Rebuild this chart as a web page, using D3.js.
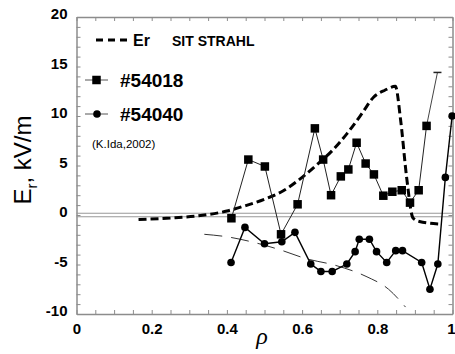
<!DOCTYPE html>
<html>
<head>
<meta charset="utf-8">
<script src="https://cdn.jsdelivr.net/npm/d3@7"></script>
<style>
  html, body { margin: 0; padding: 0; background: #fff; }
  svg { display: block; font-family: "Liberation Sans", Arial, sans-serif; }
</style>
</head>
<body>
<div id="chart"></div>
<script>
// shot #54018 (squares)
const rho54018 = [0.412, 0.457, 0.501, 0.544, 0.588, 0.634, 0.656, 0.677, 0.703, 0.723, 0.745, 0.769, 0.791, 0.816, 0.840, 0.865, 0.887, 0.910, 0.931];
const er54018  = [-0.33, 5.6, 4.9, -1.95, 1.08, 8.75, 5.6, 2.0, 3.9, 4.6, 7.3, 5.2, 4.1, 1.95, 2.35, 2.5, 1.25, 2.5, 9.0];
const cap54018 = [0.96, 14.4];

// shot #54040 (circles)
const rho54040 = [0.411, 0.448, 0.500, 0.546, 0.581, 0.623, 0.650, 0.680, 0.719, 0.741, 0.752, 0.779, 0.798, 0.825, 0.849, 0.867, 0.918, 0.940, 0.961, 0.981, 0.999];
const er54040  = [-4.8, -1.25, -2.9, -2.7, -1.75, -4.95, -5.7, -5.7, -4.95, -3.7, -2.45, -2.45, -3.7, -4.8, -3.6, -3.6, -4.8, -7.5, -4.95, 3.8, 10.0];

// SIT STRAHL Er (thick dashed)
const rhoSit = [0.165, 0.25, 0.33, 0.40, 0.45, 0.50, 0.55, 0.60, 0.64, 0.68, 0.72, 0.76, 0.79, 0.82, 0.848, 0.862, 0.878, 0.895, 0.912, 0.962];
const erSit  = [-0.45, -0.3, -0.05, 0.4, 0.95, 1.6, 2.45, 3.8, 5.1, 6.5, 8.25, 10.3, 11.9, 12.6, 13.0, 9.6, 3.8, -0.3, -0.65, -0.9];

// thin long-dashed curve
const rhoNeg = [0.34, 0.40, 0.47, 0.54, 0.61, 0.69, 0.77, 0.83, 0.875];
const erNeg  = [-1.95, -2.2, -2.75, -3.5, -4.4, -5.1, -6.2, -7.5, -9.3];

const xTicks = [0, 0.2, 0.4, 0.6, 0.8, 1];
const yTicks = [-10, -5, 0, 5, 10, 15, 20];

const width = 455, height = 354;
const x = d3.scaleLinear().domain([0, 1]).range([76.5, 452.5]);
const y = d3.scaleLinear().domain([-10, 20]).range([314, 17]);

const svg = d3.select('#chart').append('svg')
  .attr('width', width).attr('height', height);

const frameColor = '#8c8c8c';

// minor tick values
const xMinor = d3.range(0, 1.0001, 0.05).map(v => +v.toFixed(2));
const yMinor = d3.range(-10, 20.001, 1);
const isMajorX = v => xTicks.some(t => Math.abs(t - v) < 1e-6);
const isMajorY = v => yTicks.some(t => Math.abs(t - v) < 1e-6);

function styleAxis(g) {
  g.select('.domain').attr('stroke', frameColor).attr('stroke-width', 1.5);
  g.selectAll('.tick line').attr('stroke', frameColor).attr('stroke-width', 1);
  g.selectAll('.tick text')
    .attr('fill', '#000')
    .style('font-size', '15px')
    .style('font-weight', 'bold');
}

// bottom
svg.append('g')
  .attr('transform', `translate(0,${y(-10)})`)
  .call(d3.axisBottom(x).tickValues(xMinor).tickSizeInner(-4).tickSizeOuter(0).tickPadding(9)
    .tickFormat(v => isMajorX(v) ? d3.format('~g')(v) : ''))
  .call(styleAxis)
  .call(g => g.selectAll('.tick text').filter(v => v === 1)
    .attr('text-anchor', 'end').attr('x', 2.5));

// top
svg.append('g')
  .attr('transform', `translate(0,${y(20)})`)
  .call(d3.axisTop(x).tickValues(xMinor).tickSizeInner(-4).tickSizeOuter(0).tickFormat(''))
  .call(styleAxis);

// left
svg.append('g')
  .attr('transform', `translate(${x(0)},0)`)
  .call(d3.axisLeft(y).tickValues(yMinor).tickSizeInner(-4).tickSizeOuter(0).tickPadding(9)
    .tickFormat(v => isMajorY(v) ? v : ''))
  .call(styleAxis)
  .call(g => g.selectAll('.tick text').attr('dy', '0.1em'));

// right
svg.append('g')
  .attr('transform', `translate(${x(1)},0)`)
  .call(d3.axisRight(y).tickValues(yMinor).tickSizeInner(-4).tickSizeOuter(0).tickFormat(''))
  .call(styleAxis);

// zero line (double gray)
[-1.7, 1.7].forEach(d => {
  svg.append('line')
    .attr('x1', x(0)).attr('x2', x(1))
    .attr('y1', y(0) + d).attr('y2', y(0) + d)
    .attr('stroke', '#999').attr('stroke-width', 1.1);
});

const line = d3.line().x(d => x(d[0])).y(d => y(d[1]));
const smooth = d3.line().x(d => x(d[0])).y(d => y(d[1])).curve(d3.curveMonotoneX);

// thin long-dashed curve
svg.append('path')
  .datum(d3.zip(rhoNeg, erNeg))
  .attr('d', smooth)
  .attr('fill', 'none').attr('stroke', '#333').attr('stroke-width', 1)
  .attr('stroke-dasharray', '18,9');

// SIT STRAHL Er
svg.append('path')
  .datum(d3.zip(rhoSit, erSit))
  .attr('d', smooth)
  .attr('fill', 'none').attr('stroke', '#000').attr('stroke-width', 3)
  .attr('stroke-dasharray', '8,4');

// #54018
const pts18 = d3.zip(rho54018, er54018);
svg.append('path')
  .datum(pts18)
  .attr('d', line)
  .attr('fill', 'none').attr('stroke', '#222').attr('stroke-width', 1);
svg.append('path')
  .datum([pts18[pts18.length - 1], cap54018])
  .attr('d', line)
  .attr('fill', 'none').attr('stroke', '#444').attr('stroke-width', 1);
svg.append('line')
  .attr('x1', x(cap54018[0]) - 4).attr('x2', x(cap54018[0]) + 4)
  .attr('y1', y(cap54018[1])).attr('y2', y(cap54018[1]))
  .attr('stroke', '#222').attr('stroke-width', 1.5);
const sq = 8.5;
svg.append('g').selectAll('rect')
  .data(pts18)
  .join('rect')
  .attr('x', d => x(d[0]) - sq / 2).attr('y', d => y(d[1]) - sq / 2)
  .attr('width', sq).attr('height', sq)
  .attr('fill', '#000');

// #54040
const pts40 = d3.zip(rho54040, er54040);
svg.append('path')
  .datum(pts40)
  .attr('d', line)
  .attr('fill', 'none').attr('stroke', '#000').attr('stroke-width', 1.4);
svg.append('g').selectAll('circle')
  .data(pts40)
  .join('circle')
  .attr('cx', d => x(d[0])).attr('cy', d => y(d[1]))
  .attr('r', 3.8)
  .attr('fill', '#000');

// legend
const lg = svg.append('g');
lg.append('line')
  .attr('x1', 96).attr('x2', 127).attr('y1', 40).attr('y2', 40)
  .attr('stroke', '#000').attr('stroke-width', 3).attr('stroke-dasharray', '7,5');
lg.append('text').attr('x', 133).attr('y', 46)
  .style('font-size', '16px').style('font-weight', 'bold').text('Er');
lg.append('text').attr('x', 172).attr('y', 45.5)
  .style('font-size', '14px').style('font-weight', 'bold').text('SIT STRAHL');

lg.append('line').attr('x1', 85).attr('x2', 108).attr('y1', 80).attr('y2', 80)
  .attr('stroke', '#555').attr('stroke-width', 1);
lg.append('rect').attr('x', 96.5 - sq / 2).attr('y', 80 - sq / 2)
  .attr('width', sq).attr('height', sq).attr('fill', '#000');
lg.append('text').attr('x', 120).attr('y', 87)
  .style('font-size', '19px').style('font-weight', 'bold').text('#54018');

lg.append('line').attr('x1', 85).attr('x2', 108).attr('y1', 114).attr('y2', 114)
  .attr('stroke', '#555').attr('stroke-width', 1);
lg.append('circle').attr('cx', 97).attr('cy', 114).attr('r', 3.8).attr('fill', '#000');
lg.append('text').attr('x', 120).attr('y', 121)
  .style('font-size', '19px').style('font-weight', 'bold').text('#54040');

lg.append('text').attr('x', 92).attr('y', 148)
  .style('font-size', '11.5px').text('(K.Ida,2002)');

// axis titles
const yl = svg.append('text')
  .attr('transform', 'translate(31,160) rotate(-90)')
  .attr('text-anchor', 'middle')
  .style('font-size', '24px');
yl.append('tspan').text('E');
yl.append('tspan').attr('dy', 6).style('font-size', '15px').text('r');
yl.append('tspan').attr('dy', -6).text(', kV/m');

svg.append('text')
  .attr('x', 262).attr('y', 344)
  .attr('text-anchor', 'middle')
  .style('font-family', '"Liberation Serif", serif')
  .style('font-style', 'italic')
  .style('font-size', '24px')
  .text('ρ');
</script>
</body>
</html>
